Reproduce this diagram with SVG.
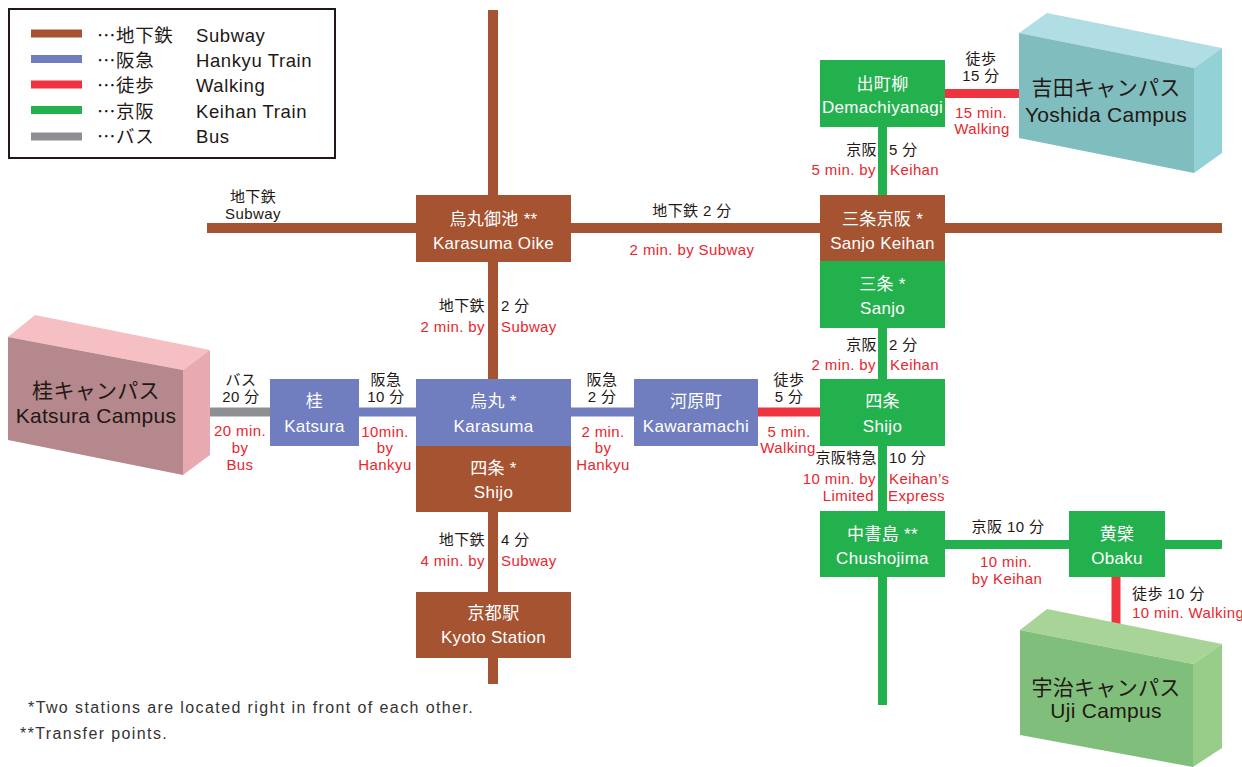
<svg xmlns="http://www.w3.org/2000/svg" width="1242" height="767" viewBox="0 0 1242 767">
<style>
text{font-family:"Liberation Sans","Noto Sans CJK JP",sans-serif}
.sub{stroke:#A55330;stroke-width:10}
.hk{stroke:#707DBE;stroke-width:9}
.wk{stroke:#EE343E;stroke-width:9}
.kh{stroke:#23B14D;stroke-width:9}
.bus{stroke:#8E8F93;stroke-width:9}
.bSub{fill:#A55330}
.bHk{fill:#707DBE}
.bKh{fill:#23B14D}
.st text{fill:#fff;font-size:17px;text-anchor:middle;letter-spacing:0.3px}
.lb{font-size:15px;fill:#231815;letter-spacing:0.4px}
.r{fill:#E8262E}
.m{text-anchor:middle}
.e{text-anchor:end}
.cp text{font-size:21px;fill:#231815;text-anchor:middle;letter-spacing:0.3px}
.lg{font-size:18.5px;fill:#231815;letter-spacing:0.6px}
.dots{font-family:"Noto Sans CJK JP",sans-serif}
.fn{font-size:16px;fill:#333;letter-spacing:1.4px}
</style>
<rect width="1242" height="767" fill="#fff"/>

<!-- legend -->
<g id="legend">
  <rect x="9" y="9" width="326" height="149" fill="#fff" stroke="#231815" stroke-width="2"/>
  <rect x="31" y="29.5" width="51" height="8" fill="#A55330"/>
  <rect x="31" y="55" width="51" height="8" fill="#707DBE"/>
  <rect x="31" y="80.5" width="51" height="8" fill="#EE343E"/>
  <rect x="31" y="106" width="51" height="8" fill="#23B14D"/>
  <rect x="31" y="132.5" width="51" height="8" fill="#8E8F93"/>
  <text class="lg" x="97" y="41.5"><tspan class="dots">…</tspan>地下鉄</text>
  <text class="lg" x="97" y="67"><tspan class="dots">…</tspan>阪急</text>
  <text class="lg" x="97" y="92"><tspan class="dots">…</tspan>徒歩</text>
  <text class="lg" x="97" y="117.5"><tspan class="dots">…</tspan>京阪</text>
  <text class="lg" x="97" y="143"><tspan class="dots">…</tspan>バス</text>
  <text class="lg" x="196" y="41.5">Subway</text>
  <text class="lg" x="196" y="67">Hankyu Train</text>
  <text class="lg" x="196" y="92">Walking</text>
  <text class="lg" x="196" y="117.5">Keihan Train</text>
  <text class="lg" x="196" y="143">Bus</text>
</g>

<!-- lines between stations -->
<g id="connectors">
  <line class="sub" x1="493" y1="10" x2="493" y2="684"/>
  <line class="sub" x1="207" y1="228" x2="1222" y2="228"/>
  <line class="kh" x1="882.5" y1="60" x2="882.5" y2="705"/>
  <line class="kh" x1="945" y1="544.5" x2="1222" y2="544.5" stroke-width="8"/>
  <line class="hk" x1="270" y1="412" x2="758" y2="412"/>
  <line class="bus" x1="200" y1="412" x2="270" y2="412"/>
  <line class="wk" x1="758" y1="412" x2="820" y2="412"/>
  <line class="wk" x1="945" y1="93.5" x2="1025" y2="93.5"/>
  <line class="wk" x1="1116" y1="577" x2="1116" y2="640"/>
</g>

<!-- travel times along the lines -->
<g id="connector-labels" class="lb">
  <text class="m" x="253" y="202">地下鉄</text>
  <text class="m" x="253" y="219">Subway</text>

  <text class="m" x="692" y="216">地下鉄 2 分</text>
  <text class="m r" x="692" y="255">2 min. by Subway</text>

  <text class="e" x="485" y="311">地下鉄</text>
  <text x="501" y="311">2 分</text>
  <text class="e r" x="485" y="332">2 min. by</text>
  <text class="r" x="501" y="332">Subway</text>

  <text class="e" x="485" y="545">地下鉄</text>
  <text x="501" y="545">4 分</text>
  <text class="e r" x="485" y="566">4 min. by</text>
  <text class="r" x="501" y="566">Subway</text>

  <text class="m" x="241" y="385">バス</text>
  <text class="m" x="241" y="402">20 分</text>
  <text class="m r" x="240" y="436">20 min.</text>
  <text class="m r" x="240" y="453">by</text>
  <text class="m r" x="240" y="470">Bus</text>

  <text class="m" x="386" y="385">阪急</text>
  <text class="m" x="386" y="402">10 分</text>
  <text class="m r" x="385" y="437">10min.</text>
  <text class="m r" x="385" y="453">by</text>
  <text class="m r" x="385" y="470">Hankyu</text>

  <text class="m" x="602" y="385">阪急</text>
  <text class="m" x="602" y="402">2 分</text>
  <text class="m r" x="603" y="437">2 min.</text>
  <text class="m r" x="603" y="453">by</text>
  <text class="m r" x="603" y="470">Hankyu</text>

  <text class="m" x="789" y="385">徒歩</text>
  <text class="m" x="789" y="402">5 分</text>
  <text class="m r" x="789" y="437">5 min.</text>
  <text class="m r" x="788" y="453">Walking</text>

  <text class="m" x="981" y="64">徒歩</text>
  <text class="m" x="981" y="81">15 分</text>
  <text class="m r" x="981" y="118">15 min.</text>
  <text class="m r" x="982" y="134">Walking</text>

  <text class="e" x="877" y="155">京阪</text>
  <text x="889" y="155">5 分</text>
  <text class="e r" x="876" y="175">5 min. by</text>
  <text class="r" x="890" y="175">Keihan</text>

  <text class="e" x="877" y="350">京阪</text>
  <text x="889" y="350">2 分</text>
  <text class="e r" x="876" y="370">2 min. by</text>
  <text class="r" x="890" y="370">Keihan</text>

  <text class="e" x="877" y="463">京阪特急</text>
  <text x="889" y="463">10 分</text>
  <text class="e r" x="876" y="484">10 min. by</text>
  <text class="e r" x="874" y="501">Limited</text>
  <text class="r" x="889" y="484">Keihan’s</text>
  <text class="r" x="888" y="501">Express</text>

  <text class="m" x="1008" y="532">京阪 10 分</text>
  <text class="m r" x="1006" y="567">10 min.</text>
  <text class="m r" x="1007" y="584">by Keihan</text>

  <text x="1132" y="599">徒歩 10 分</text>
  <text class="r" x="1132" y="618">10 min. Walking</text>
</g>

<!-- stations -->
<g id="karasuma-oike" class="st">
  <rect class="bSub" x="416" y="195" width="155" height="67"/>
  <text x="493.5" y="225">烏丸御池 **</text>
  <text x="493.5" y="249">Karasuma Oike</text>
</g>
<g id="sanjo-keihan" class="st">
  <rect class="bSub" x="820" y="195" width="125" height="66"/>
  <text x="882.5" y="225">三条京阪 *</text>
  <text x="882.5" y="249">Sanjo Keihan</text>
</g>
<g id="sanjo" class="st">
  <rect class="bKh" x="820" y="261" width="125" height="67"/>
  <text x="882.5" y="290">三条 *</text>
  <text x="882.5" y="314">Sanjo</text>
</g>
<g id="demachiyanagi" class="st">
  <rect class="bKh" x="820" y="60" width="125" height="67"/>
  <text x="882.5" y="90">出町柳</text>
  <text x="882.5" y="113">Demachiyanagi</text>
</g>
<g id="katsura" class="st">
  <rect class="bHk" x="270" y="379" width="89" height="67"/>
  <text x="314.5" y="407">桂</text>
  <text x="314.5" y="432">Katsura</text>
</g>
<g id="karasuma" class="st">
  <rect class="bHk" x="416" y="379" width="155" height="67"/>
  <text x="493.5" y="407">烏丸 *</text>
  <text x="493.5" y="432">Karasuma</text>
</g>
<g id="shijo-subway" class="st">
  <rect class="bSub" x="416" y="446" width="155" height="66"/>
  <text x="493.5" y="474">四条 *</text>
  <text x="493.5" y="498">Shijo</text>
</g>
<g id="kawaramachi" class="st">
  <rect class="bHk" x="634" y="379" width="124" height="67"/>
  <text x="696" y="407">河原町</text>
  <text x="696" y="432">Kawaramachi</text>
</g>
<g id="shijo-keihan" class="st">
  <rect class="bKh" x="820" y="379" width="125" height="67"/>
  <text x="882.5" y="407">四条</text>
  <text x="882.5" y="432">Shijo</text>
</g>
<g id="kyoto-station" class="st">
  <rect class="bSub" x="416" y="592" width="155" height="66"/>
  <text x="493.5" y="619">京都駅</text>
  <text x="493.5" y="643">Kyoto Station</text>
</g>
<g id="chushojima" class="st">
  <rect class="bKh" x="820" y="511" width="125" height="66"/>
  <text x="882.5" y="540">中書島 **</text>
  <text x="882.5" y="564">Chushojima</text>
</g>
<g id="obaku" class="st">
  <rect class="bKh" x="1069" y="511" width="96" height="66"/>
  <text x="1117" y="540">黄檗</text>
  <text x="1117" y="564">Obaku</text>
</g>

<!-- campuses drawn as slanted blocks -->
<g id="katsura-campus" class="cp">
  <polygon points="8,337 35,315 210,350 183,370" fill="#F6BFC4"/>
  <polygon points="183,370 210,350 210,455 183,475" fill="#E9A9B0"/>
  <polygon points="8,337 183,370 183,475 8,440" fill="#B5888D"/>
  <text x="96" y="398">桂キャンパス</text>
  <text x="96" y="423">Katsura Campus</text>
</g>
<g id="yoshida-campus" class="cp">
  <polygon points="1019,33 1047,13 1222,48 1194,68" fill="#B0DEE4"/>
  <polygon points="1194,68 1222,48 1222,153 1194,173" fill="#92D1D6"/>
  <polygon points="1019,33 1194,68 1194,173 1019,138" fill="#80BDBE"/>
  <text x="1106" y="95">吉田キャンパス</text>
  <text x="1106" y="122">Yoshida Campus</text>
</g>
<g id="uji-campus" class="cp">
  <polygon points="1020,630 1047,609 1222,644 1193,664" fill="#A8D597"/>
  <polygon points="1193,664 1222,644 1222,748 1193,767" fill="#97CD88"/>
  <polygon points="1020,630 1193,664 1193,767 1020,735" fill="#80BF7B"/>
  <text x="1106" y="695">宇治キャンパス</text>
  <text x="1106" y="718">Uji Campus</text>
</g>

<!-- notes -->
<g id="notes">
  <text class="fn" x="28" y="713">*Two stations are located right in front of each other.</text>
  <text class="fn" x="20" y="739">**Transfer points.</text>
</g>
</svg>
